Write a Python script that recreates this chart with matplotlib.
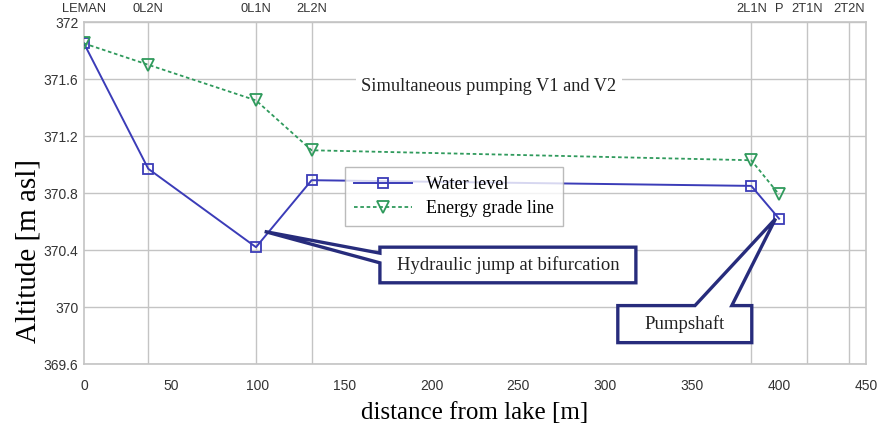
import matplotlib
matplotlib.use("Agg")
import matplotlib.pyplot as plt
from matplotlib.patches import Polygon
from matplotlib.ticker import FixedLocator
import numpy as np

# stations along the gallery (top axis)
station_names = ["LEMAN", "0L2N", "0L1N", "2L2N", "2L1N", "P", "2T1N", "2T2N"]
station_x = [0, 37, 99, 131, 384, 400, 416, 440]

# profile values
dist = [0, 37, 99, 131, 384, 400]
water_level = [371.85, 370.97, 370.42, 370.89, 370.85, 370.62]
energy_line = [371.85, 371.70, 371.45, 371.10, 371.03, 370.79]

x_ticks = np.arange(0, 451, 50)
y_ticks = [369.6, 370, 370.4, 370.8, 371.2, 371.6, 372]
y_labels = ["369.6", "370", "370.4", "370.8", "371.2", "371.6", "372"]

blue = "#3b3cb8"
green = "#2f9a5c"
navy = "#272c7c"
grid_c = "#c4c4c4"
serif = "Liberation Serif"
sans = "Liberation Sans"

fig = plt.figure(figsize=(8.83, 4.26), dpi=100)
ax = fig.add_axes([0.0951, 0.1455, 0.8856, 0.8028])

ax.plot(dist, water_level, color=blue, lw=1.4, marker="s", ms=6.5,
        mfc="none", mec=blue, mew=1.3, label="Water level", zorder=3)
ax.plot(dist, energy_line, color=green, lw=1.3, ls=(0, (2, 1.5)), marker="v", ms=8,
        mfc="none", mec=green, mew=1.3, label="Energy grade line", zorder=3)

ax.set_xlim(0, 450)
ax.set_ylim(369.6, 372)
ax.set_xticks(x_ticks)
ax.set_xticklabels([str(v) for v in x_ticks], fontfamily=sans, fontsize=10, color="#333333")
ax.set_yticks(y_ticks)
ax.set_yticklabels(y_labels, fontfamily=sans, fontsize=10, color="#333333")
ax.xaxis.set_minor_locator(FixedLocator(station_x))
ax.tick_params(which="both", length=0)
ax.tick_params(axis="x", pad=11)
ax.tick_params(axis="y", pad=4)
ax.grid(which="minor", axis="x", color=grid_c, lw=1)
ax.grid(which="major", axis="y", color=grid_c, lw=1)
ax.set_axisbelow(True)
for s in ax.spines.values():
    s.set_color(grid_c)
    s.set_linewidth(1.2)

top = ax.secondary_xaxis("top")
top.set_xticks(station_x)
top.set_xticklabels(station_names, fontfamily=sans, fontsize=9.3, color="#333333")
top.tick_params(length=0, pad=5)
top.spines["top"].set_visible(False)

ax.set_xlabel("distance from lake [m]", fontfamily=serif, fontsize=18, labelpad=6)
ax.set_ylabel("Altitude [m asl]", fontfamily=serif, fontsize=21)
ax.yaxis.set_label_coords(-0.054, 0.33)

ax.text(233, 371.55, "Simultaneous pumping V1 and V2", fontfamily=serif, fontsize=13.2,
        ha="center", va="center", color="#222222",
        bbox=dict(facecolor="white", edgecolor="none", pad=4), zorder=2)

leg = ax.legend(loc="upper left", bbox_to_anchor=(0.334, 0.576), borderaxespad=0,
                prop={"family": serif, "size": 13}, frameon=True, fancybox=False,
                edgecolor="#aaaaaa", handlelength=3.2, borderpad=0.5, labelspacing=0.4)
leg.get_frame().set_linewidth(1)
leg.set_zorder(4)

# callout: hydraulic jump
hyd = [(170.3, 370.42), (317.6, 370.42), (317.6, 370.17), (170.3, 370.17),
       (170.3, 370.31), (104, 370.53), (170.3, 370.378)]
ax.add_patch(Polygon(hyd, closed=True, facecolor="white", edgecolor=navy, lw=2.4,
                     joinstyle="miter", zorder=5, clip_on=False))
ax.text(244, 370.295, "Hydraulic jump at bifurcation", fontfamily=serif, fontsize=13.4,
        ha="center", va="center", color="#222222", zorder=6)

# callout: pumpshaft
pump = [(307.2, 370.01), (351.6, 370.01), (398, 370.62), (372.8, 370.01),
        (384.3, 370.01), (384.3, 369.75), (307.2, 369.75)]
ax.add_patch(Polygon(pump, closed=True, facecolor="white", edgecolor=navy, lw=2.4,
                     joinstyle="miter", zorder=5, clip_on=False))
ax.text(345.7, 369.88, "Pumpshaft", fontfamily=serif, fontsize=13.5,
        ha="center", va="center", color="#222222", zorder=6)

fig.savefig("out.png", dpi=100)
